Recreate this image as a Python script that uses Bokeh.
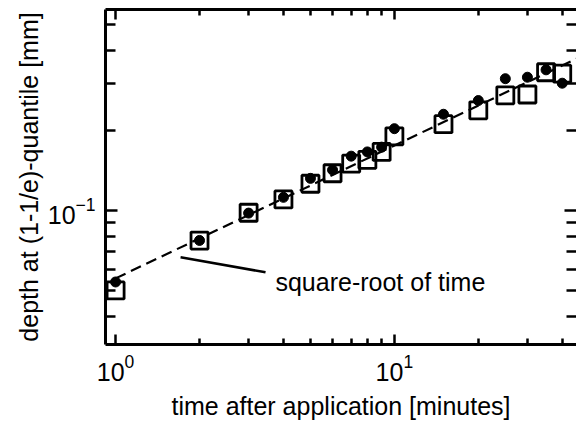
from bokeh.plotting import figure
from bokeh.models import (FixedTicker, LogAxis, Range1d, Label, CustomJSTickFormatter)
from bokeh.embed import file_html
from bokeh.resources import INLINE

# ---- data ----
time_min = [1, 2, 3, 4, 5, 6, 7, 8, 9, 10, 15, 20, 25, 30, 35, 40]
depth_dots = [0.0538, 0.0771, 0.0977, 0.112, 0.132, 0.142, 0.160, 0.166, 0.173,
              0.203, 0.230, 0.259, 0.313, 0.317, 0.338, 0.301]
depth_squares = [0.0500, 0.0770, 0.0980, 0.110, 0.126, 0.138, 0.150, 0.155, 0.166,
                 0.190, 0.211, 0.238, 0.271, 0.273, 0.331, 0.327]
fit_time = [1, 45]
fit_depth = [0.0555, 0.372]

x_major = [1, 10]
x_minor = [2, 3, 4, 5, 6, 7, 8, 9, 20, 30, 40]
y_major = [0.1]
y_minor = [0.04, 0.05, 0.06, 0.07, 0.08, 0.09, 0.2, 0.3, 0.4, 0.5]

FONT = "Liberation Sans"

p = figure(width=576, height=426, x_axis_type="log", y_axis_type="log",
           x_range=Range1d(0.92, 45), y_range=Range1d(0.0313, 0.570),
           output_backend="svg", toolbar_location=None,
           min_border_left=105, min_border_right=0, min_border_top=9,
           min_border_bottom=82)
p.background_fill_color = "white"
p.border_fill_color = "white"
p.outline_line_color = None
p.grid.visible = False

def style_axis(ax, major, minor, tin, tmin):
    ax.ticker = FixedTicker(ticks=major, minor_ticks=minor)
    ax.axis_line_width = 3
    ax.axis_line_color = "black"
    ax.major_tick_in = tin
    ax.major_tick_out = 0
    ax.minor_tick_in = tmin
    ax.minor_tick_out = 0
    ax.major_tick_line_width = 2.5
    ax.minor_tick_line_width = 2.5
    ax.major_tick_line_color = "black"
    ax.minor_tick_line_color = "black"
    ax.major_label_text_font = FONT
    ax.major_label_text_font_size = "25px"
    ax.major_label_text_color = "black"
    ax.axis_label_text_font = FONT
    ax.axis_label_text_font_size = "25px"
    ax.axis_label_text_font_style = "normal"
    ax.axis_label_text_color = "black"

style_axis(p.xaxis[0], x_major, x_minor, 10, 6)
style_axis(p.yaxis[0], y_major, y_minor, 12, 10)
p.xaxis[0].axis_label = "time after application [minutes]"
p.yaxis[0].axis_label = "depth at (1-1/e)-quantile [mm]"
p.xaxis[0].major_label_standoff = 9
p.xaxis[0].axis_label_standoff = 8
p.yaxis[0].major_label_standoff = 10
p.yaxis[0].axis_label_standoff = 2

top_ax = LogAxis()
right_ax = LogAxis()
style_axis(top_ax, x_major, x_minor, 10, 6)
style_axis(right_ax, y_major, y_minor, 12, 10)
for ax in (top_ax, right_ax):
    ax.formatter = CustomJSTickFormatter(code="return ''")
    ax.major_label_standoff = 0
right_ax.axis_line_color = None
p.add_layout(top_ax, "above")
p.add_layout(right_ax, "right")

# square-root-of-time fit line
p.line(fit_time, fit_depth, line_color="black", line_width=2.2, line_dash="11 6")

# markers
p.scatter(time_min, depth_squares, marker="square", size=17, fill_color=None,
          line_color="black", line_width=2.8)
p.scatter(time_min, depth_dots, marker="circle", size=10, fill_color="black",
          line_color="black", line_width=1)

# annotation
p.line([1.71, 3.45], [0.0666, 0.0585], line_color="black", line_width=2.5)
p.add_layout(Label(x=3.745, y=0.0536, text="square-root of time",
                   text_font=FONT, text_font_size="25px", text_color="black",
                   text_baseline="alphabetic", text_align="left"))

open("out.html", "w").write(file_html(p, INLINE))
